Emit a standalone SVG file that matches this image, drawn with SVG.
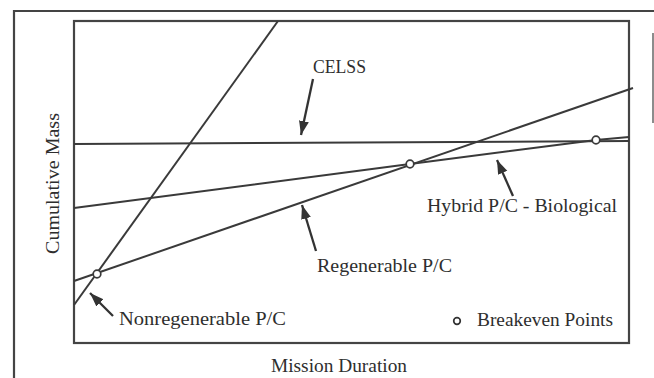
<svg xmlns="http://www.w3.org/2000/svg" width="654" height="378" viewBox="0 0 654 378">
<defs>
<marker id="ah" markerUnits="userSpaceOnUse" markerWidth="16" markerHeight="12" refX="14" refY="5" orient="auto">
<path d="M0,0 L14,5 L0,10 Z" fill="#333"/>
</marker>
<style>
.frame{fill:none;stroke:#444;stroke-width:2.2}
.ln{fill:none;stroke:#3a3a3a;stroke-width:2}
.arr{fill:none;stroke:#333;stroke-width:2.3;marker-end:url(#ah)}
.pt{fill:#fff;stroke:#3a3a3a;stroke-width:1.7}
text{font-family:"Liberation Serif","Times New Roman",serif;font-size:18.5px;fill:#2e2e2e}
</style>
</defs>
<rect width="654" height="378" fill="#fff"/>
<g id="frame">
<path class="frame" d="M14,378 L14,11 L654,11"/>
<path d="M653,33 L653,123" stroke="#666" stroke-width="1.5" fill="none"/>
<rect id="plot" class="frame" x="74" y="21" width="555" height="322"/>
</g>
<g id="curves">
<path id="nonreg" class="ln" d="M74,305 L278,21"/>
<path id="celss" class="ln" d="M74,144 L629,141"/>
<path id="hybrid" class="ln" d="M74,208 L410,164 L596,140 L629,137"/>
<path id="regen" class="ln" d="M74,281 L633,88"/>
</g>
<g id="connectors">
<path class="arr" d="M313,79 L301,135"/>
<path class="arr" d="M513,196 L497,160"/>
<path class="arr" d="M316,251 L302,205"/>
<path class="arr" d="M113,316 L90,293"/>
</g>
<g id="points">
<circle class="pt" cx="97" cy="274" r="3.8"/>
<circle class="pt" cx="410" cy="164" r="3.8"/>
<circle class="pt" cx="596" cy="140" r="3.8"/>
</g>
<g id="labels">
<text id="l-celss" x="313" y="73" textLength="53" lengthAdjust="spacingAndGlyphs">CELSS</text>
<text id="l-hybrid" x="427" y="212" textLength="190" lengthAdjust="spacingAndGlyphs">Hybrid P/C - Biological</text>
<text id="l-regen" x="317" y="272" textLength="135" lengthAdjust="spacingAndGlyphs">Regenerable P/C</text>
<text id="l-nonreg" x="119" y="325" textLength="167" lengthAdjust="spacingAndGlyphs">Nonregenerable P/C</text>
</g>
<g id="legend">
<circle cx="457" cy="321" r="3.3" fill="#fff" stroke="#333" stroke-width="1.7"/>
<text x="477" y="326" textLength="136" lengthAdjust="spacingAndGlyphs">Breakeven Points</text>
</g>
<g id="axes-labels">
<text x="271" y="372" textLength="136" lengthAdjust="spacingAndGlyphs">Mission Duration</text>
<text transform="translate(59,254) rotate(-90)" x="0" y="0" textLength="141" lengthAdjust="spacingAndGlyphs">Cumulative Mass</text>
</g>
</svg>
